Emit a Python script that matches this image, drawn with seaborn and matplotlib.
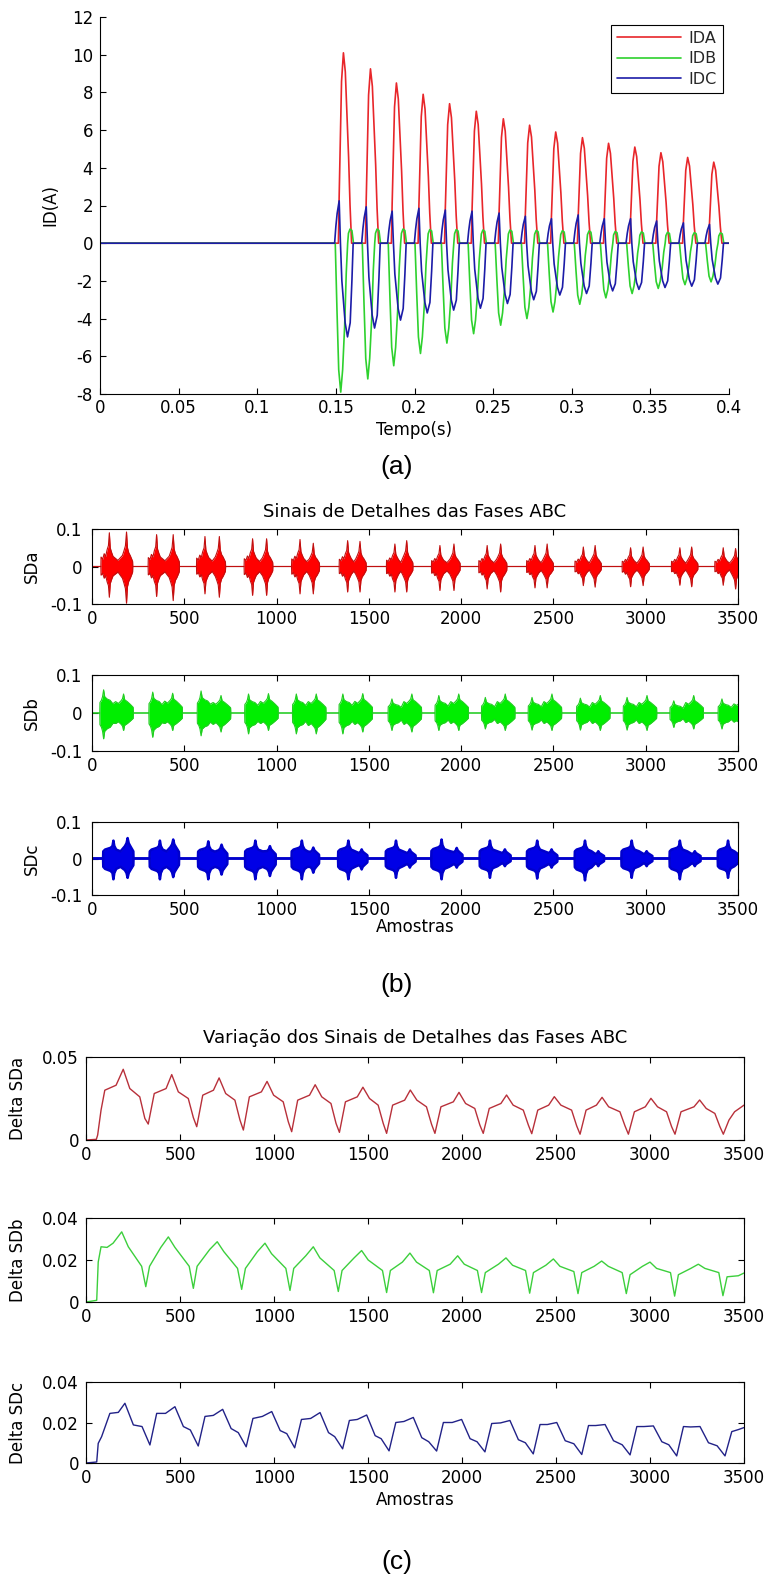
import numpy as np
import matplotlib
matplotlib.use("Agg")
import matplotlib.pyplot as plt
import seaborn as sns

# ======================= DATA =======================
# ---- Panel (a): currents, one entry per cycle ----
CYCLE_PEAK_T = [0.1548, 0.1720, 0.1885, 0.2055, 0.2223, 0.2393, 0.2565, 0.2732,
                0.2898, 0.3068, 0.3234, 0.3401, 0.3567, 0.3737, 0.3903]
IDA_PEAK = [10.1, 9.25, 8.5, 7.9, 7.4, 7.0, 6.6, 6.26, 5.9, 5.6, 5.3, 5.1, 4.8, 4.55, 4.3]
IDB_TROUGH = [-7.9, -7.2, -6.5, -5.85, -5.3, -4.8, -4.35, -4.0, -3.65, -3.24, -2.9,
              -2.67, -2.4, -2.2, -2.05]
IDB_BUMP = [0.75, 0.75, 0.75, 0.72, 0.72, 0.7, 0.7, 0.68, 0.66, 0.65, 0.62, 0.6, 0.58, 0.56, 0.55]
IDC_PEAK = [2.25, 1.93, 1.7, 1.85, 1.76, 1.7, 1.6, 1.43, 1.3, 1.5, 1.3, 1.3, 1.18, 1.08, 1.0]
IDC_TROUGH = [-4.97, -4.5, -4.08, -3.7, -3.55, -3.45, -3.2, -3.0, -2.75, -2.67, -2.53,
              -2.45, -2.35, -2.28, -2.17]
TIME_RANGE = [0.0, 0.4]
SERIES_A = ["IDA", "IDB", "IDC"]
# pulse shapes (offset from IDA peak [s], normalised level)
IDA_DT = [-0.0032, -0.0027, -0.0021, -0.0012, 0.0, 0.0012, 0.0024, 0.0033, 0.0042, 0.0052]
IDA_SH = [0.0, 0.25, 0.5, 0.85, 1.0, 0.9, 0.65, 0.45, 0.2, 0.0]
IDB_DT = [-0.0052, -0.0041, -0.0030, -0.0017, -0.0005, 0.0008, 0.0018, 0.0027,
          0.0032, 0.0042, 0.0054, 0.0064]
IDB_SH_TR = [0.0, 0.45, 0.85, 1.0, 0.85, 0.55, 0.2, 0.0, 0.0, 0.0, 0.0, 0.0]
IDB_SH_BU = [0.0, 0.0, 0.0, 0.0, 0.0, 0.0, 0.0, 0.0, 0.7, 1.0, 0.9, 0.0]
IDC_DT = [-0.0056, -0.0048, -0.0040, -0.0027, -0.0019, -0.0010, 0.0011, 0.0026,
          0.0043, 0.0054, 0.0062]
IDC_SH_PK = [0.0, 0.4, 0.7, 1.0, 0.0, 0.0, 0.0, 0.0, 0.0, 0.0, 0.0]
IDC_SH_TR = [0.0, 0.0, 0.0, 0.0, 0.0, 0.4, 0.85, 1.0, 0.85, 0.4, 0.0]
A_XTICKS = [0, 0.05, 0.1, 0.15, 0.2, 0.25, 0.3, 0.35, 0.4]
A_XLABELS = ["0", "0.05", "0.1", "0.15", "0.2", "0.25", "0.3", "0.35", "0.4"]
A_YTICKS = [-8, -6, -4, -2, 0, 2, 4, 6, 8, 10, 12]

# ---- Panel (b): detail-signal bursts ----
SAMPLE_RANGE = [0, 3500]
SDA_L1 = [94, 350, 612, 870, 1127, 1385, 1641, 1885, 2141, 2400, 2662, 2918, 3185, 3420]
SDA_L2 = [187, 440, 690, 946, 1199, 1452, 1705, 1961, 2214, 2466, 2726, 2986, 3249, 3487]
SDA_UP1 = [0.090, 0.085, 0.080, 0.074, 0.072, 0.069, 0.060, 0.056, 0.056, 0.056, 0.052, 0.050, 0.050, 0.050]
SDA_UP2 = [0.092, 0.085, 0.080, 0.074, 0.062, 0.067, 0.069, 0.060, 0.060, 0.060, 0.056, 0.052, 0.052, 0.048]
SDA_DN1 = [-0.082, -0.080, -0.073, -0.077, -0.073, -0.068, -0.068, -0.064, -0.060, -0.057, -0.051, -0.054, -0.050, -0.050]
SDA_DN2 = [-0.098, -0.091, -0.082, -0.077, -0.073, -0.068, -0.068, -0.064, -0.068, -0.057, -0.055, -0.051, -0.054, -0.060]
SDA_DX1 = [-46, -45, -36, -28, -20, -12, -5, 0, 5, 12, 20]
SDA_R1 = [0.0, 0.28, 0.22, 0.38, 0.30, 0.50, 0.62, 1.0, 0.55, 0.42, 0.30]
SDA_RMID = 0.18
SDA_DX2 = [-22, -14, -6, 0, 5, 12, 20, 28, 33, 34]
SDA_R2 = [0.32, 0.45, 0.60, 1.0, 0.55, 0.40, 0.32, 0.22, 0.15, 0.0]

SDB_S = [43, 309, 571, 828, 1087, 1339, 1605, 1859, 2111, 2364, 2626, 2879, 3132, 3393]
SDB_UP1 = [0.061, 0.055, 0.058, 0.050, 0.050, 0.050, 0.037, 0.046, 0.041, 0.041, 0.039, 0.041, 0.032, 0.037]
SDB_DN1 = [-0.068, -0.064, -0.060, -0.055, -0.055, -0.055, -0.046, -0.046, -0.042, -0.045, -0.045, -0.045, -0.038, -0.042]
SDB_UP2 = [0.050, 0.052, 0.046, 0.051, 0.050, 0.051, 0.050, 0.050, 0.050, 0.050, 0.046, 0.046, 0.046, 0.040]
SDB_DN2 = [-0.046, -0.046, -0.050, -0.046, -0.055, -0.050, -0.050, -0.046, -0.046, -0.046, -0.046, -0.046, -0.042, -0.040]
SDB_DX = [-1, 0, 8, 14, 20, 26, 40, 55, 70, 85, 100, 115, 122, 128, 134, 148, 165, 180, 181]
SDB_R = [0.0, 0.45, 0.55, 0.7, 1.0, 0.7, 0.6, 0.55, 0.4, 0.6, 0.5, 0.65, 0.75, 1.0, 0.7, 0.6, 0.45, 0.3, 0.0]
SDB_SPLIT = 70

SDC_L1 = [116, 368, 630, 885, 1137, 1389, 1647, 1894, 2156, 2412, 2671, 2924, 3185, 3446]
SDC_L2 = [193, 440, 702, 964, 1199, 1461, 1722, 1976, 2237, 2490, 2743, 3005, 3266, 3515]
SDC_UP1 = [0.049, 0.049, 0.047, 0.049, 0.049, 0.049, 0.049, 0.052, 0.049, 0.049, 0.049, 0.049, 0.049, 0.049]
SDC_DN1 = [-0.057, -0.057, -0.057, -0.057, -0.057, -0.057, -0.053, -0.057, -0.053, -0.055, -0.060, -0.053, -0.057, -0.053]
SDC_UP2 = [0.056, 0.052, 0.038, 0.034, 0.030, 0.025, 0.025, 0.029, 0.025, 0.025, 0.020, 0.020, 0.020, 0.020]
SDC_DN2 = [-0.053, -0.051, -0.044, -0.048, -0.039, -0.030, -0.025, -0.025, -0.021, -0.025, -0.021, -0.021, -0.021, -0.021]
SDC_DX1 = [-56, -55, -45, -30, -15, -5, 0, 5, 15]
SDC_R1 = [0.0, 0.4, 0.5, 0.55, 0.6, 0.7, 1.0, 0.7, 0.5]
SDC_RMID = 0.4
SDC_DX2 = [-15, -6, 0, 6, 15, 25, 31, 32]
SDC_R2 = [0.6, 0.75, 1.0, 0.75, 0.6, 0.45, 0.35, 0.0]

B_YTICKS = [-0.1, 0, 0.1]
B_YLABELS = ["-0.1", "0", "0.1"]
SAMPLE_TICKS = [0, 500, 1000, 1500, 2000, 2500, 3000, 3500]

# ---- Panel (c): delta signals ----
DSA_START_X = [0, 55, 62, 80, 100, 160]
DSA_START_Y = [0, 0.0004, 0.003, 0.018, 0.030, 0.033]
DSA_PK_X = [198, 456, 708, 963, 1219, 1473, 1725, 1984, 2237, 2491, 2745, 3005, 3264]
DSA_PK_Y = [0.0426, 0.0394, 0.0374, 0.0353, 0.0333, 0.0318, 0.0301, 0.0287, 0.0271, 0.0261, 0.0257, 0.0251, 0.0241]
DSA_TR_X = [331, 589, 837, 1094, 1348, 1599, 1856, 2113, 2371, 2628, 2885, 3133, 3390]
DSA_TR_Y = [0.0096, 0.0080, 0.0060, 0.0050, 0.0046, 0.0040, 0.0040, 0.0040, 0.0038, 0.0035, 0.0035, 0.0035, 0.0035]
DSA_PL_A = [0.028, 0.027, 0.026, 0.024, 0.023, 0.021, 0.020, 0.019, 0.018, 0.018, 0.017, 0.017]
DSA_PL_B = [0.031, 0.030, 0.029, 0.027, 0.026, 0.024, 0.023, 0.022, 0.021, 0.021, 0.020, 0.020]
DSA_SH_A = [0.031, 0.029, 0.028, 0.027, 0.026, 0.025, 0.024, 0.022, 0.021, 0.021, 0.020, 0.020, 0.019]
DSA_SH_B = [0.026, 0.025, 0.024, 0.023, 0.022, 0.021, 0.020, 0.019, 0.018, 0.018, 0.017, 0.017, 0.016]
DSA_KNEE = [0.013, 0.0135, 0.012, 0.011, 0.010, 0.010, 0.0095, 0.009, 0.009, 0.0085, 0.0085, 0.008, 0.008]
DSA_END_X = [3420, 3450, 3500]
DSA_END_Y = [0.012, 0.017, 0.021]

DSB_START_X = [0, 57, 65, 80, 112, 144]
DSB_START_Y = [0, 0.0008, 0.019, 0.0263, 0.026, 0.028]
DSB_PK_X = [190, 438, 698, 952, 1209, 1466, 1723, 1977, 2234, 2486, 2743, 3000, 3257]
DSB_PK_Y = [0.0334, 0.031, 0.0287, 0.028, 0.0263, 0.0245, 0.0233, 0.022, 0.021, 0.0205, 0.0195, 0.019, 0.018]
DSB_TR_X = [318, 571, 828, 1085, 1342, 1599, 1848, 2104, 2360, 2617, 2874, 3131, 3388]
DSB_TR_Y = [0.0073, 0.0065, 0.006, 0.0055, 0.005, 0.0045, 0.0044, 0.0045, 0.0042, 0.004, 0.004, 0.0028, 0.003]
DSB_PL_A = [0.017, 0.017, 0.016, 0.016, 0.015, 0.015, 0.015, 0.014, 0.014, 0.014, 0.013, 0.013]
DSB_PL_B = [0.026, 0.025, 0.024, 0.022, 0.021, 0.019, 0.018, 0.018, 0.0175, 0.017, 0.017, 0.016]
DSB_SH_A = [0.0263, 0.026, 0.024, 0.023, 0.021, 0.020, 0.019, 0.018, 0.0175, 0.017, 0.017, 0.016, 0.016]
DSB_SH_B = [0.017, 0.017, 0.016, 0.016, 0.015, 0.015, 0.015, 0.015, 0.015, 0.0145, 0.014, 0.014, 0.014]
DSB_END_X = [3410, 3470, 3500]
DSB_END_Y = [0.012, 0.0125, 0.0138]

DSC_START_X = [0, 57, 65, 83, 127, 172]
DSC_START_Y = [0, 0.0005, 0.0097, 0.013, 0.0245, 0.025]
DSC_PK_X = [207, 473, 727, 988, 1245, 1493, 1741, 1998, 2255, 2504, 2761, 3018, 3266]
DSC_PK_Y = [0.0295, 0.0278, 0.0265, 0.0254, 0.0249, 0.0237, 0.0225, 0.0215, 0.021, 0.020, 0.019, 0.0183, 0.018]
DSC_TR_X = [340, 597, 852, 1110, 1365, 1612, 1865, 2122, 2379, 2637, 2894, 3142, 3399]
DSC_TR_Y = [0.0089, 0.0084, 0.008, 0.0075, 0.007, 0.006, 0.0059, 0.0055, 0.0045, 0.0042, 0.004, 0.0035, 0.0035]
DSC_PL_A = [0.0245, 0.023, 0.022, 0.0215, 0.021, 0.020, 0.020, 0.0195, 0.019, 0.0185, 0.018, 0.018]
DSC_PL_B = [0.0245, 0.0235, 0.023, 0.022, 0.0215, 0.0205, 0.020, 0.0198, 0.019, 0.0185, 0.018, 0.0178]
DSC_SH_A = [0.0188, 0.018, 0.017, 0.016, 0.015, 0.0135, 0.0125, 0.012, 0.0115, 0.011, 0.011, 0.0105, 0.010]
DSC_SH_B = [0.018, 0.0163, 0.015, 0.0145, 0.013, 0.012, 0.0105, 0.0105, 0.010, 0.0095, 0.009, 0.009, 0.0085]
DSC_END_X = [3435, 3470, 3500]
DSC_END_Y = [0.0155, 0.0165, 0.0175]

C_YTICKS_A = [0, 0.05]
C_YLABELS_A = ["0", "0.05"]
C_YTICKS_B = [0, 0.02, 0.04]
C_YLABELS_B = ["0", "0.02", "0.04"]

# ======================= BUILDERS =======================
def pulse_series(centers, comps, dts, t_range):
    t, y = [t_range[0]], [0.0]
    for k, c in enumerate(centers):
        for j, dt in enumerate(dts):
            t.append(c + dt)
            y.append(sum(amp[k] * shp[j] for amp, shp in comps))
    t.append(t_range[1]); y.append(0.0)
    return np.array(t), np.array(y)


def two_lobe_env(L1, L2, U1, U2, D1, D2, dx1, r1, rmid, dx2, r2, xr):
    x, up, lo = [xr[0]], [0.0], [0.0]
    for k in range(len(L1)):
        for dx, r in zip(dx1, r1):
            x.append(L1[k] + dx); up.append(r * U1[k]); lo.append(r * D1[k])
        x.append((L1[k] + L2[k]) / 2); up.append(rmid * U1[k]); lo.append(rmid * D1[k])
        for dx, r in zip(dx2, r2):
            x.append(L2[k] + dx); up.append(r * U2[k]); lo.append(r * D2[k])
    if x[-1] < xr[1]:
        x.append(xr[1]); up.append(0.0); lo.append(0.0)
    return np.array(x), np.array(up), np.array(lo)


def start_env(S, U1, U2, D1, D2, dxs, rs, split, xr):
    x, up, lo = [xr[0]], [0.0], [0.0]
    for k in range(len(S)):
        for dx, r in zip(dxs, rs):
            u, d = (U1[k], D1[k]) if dx <= split else (U2[k], D2[k])
            x.append(S[k] + dx); up.append(r * u); lo.append(r * d)
    if x[-1] < xr[1]:
        x.append(xr[1]); up.append(0.0); lo.append(0.0)
    return np.array(x), np.array(up), np.array(lo)


def delta_series(sx, sy, pkx, pky, trx, tr_y, pla, plb, sha, shb, ex, ey,
                 da, db, dc, dd, knee=None, dk=18):
    x, y = list(sx), list(sy)
    for k in range(len(pkx)):
        if k > 0:
            x += [trx[k - 1] + da, pkx[k] - db]
            y += [pla[k - 1], plb[k - 1]]
        x += [pkx[k], pkx[k] + dc, trx[k] - dd]
        y += [pky[k], sha[k], shb[k]]
        if knee is not None:
            x.append(trx[k] - dk); y.append(knee[k])
        x.append(trx[k]); y.append(tr_y[k])
    x += list(ex); y += list(ey)
    return np.array(x), np.array(y)

# ======================= FIGURE =======================
sns.set_theme(style="ticks")
plt.rcParams["font.family"] = ["DejaVu Sans"]
plt.rcParams["axes.unicode_minus"] = False

W, H = 766, 1577
fig = plt.figure(figsize=(W / 100, H / 100), dpi=100)
fig.patch.set_facecolor("white")


def add_ax(l, t, r, b):
    return fig.add_axes([l / W, 1 - b / H, (r - l) / W, (b - t) / H])


def style(ax, box=True, xpad=4.5, ypad=5):
    for s in ax.spines.values():
        s.set_color("black"); s.set_linewidth(0.8)
    if not box:
        ax.spines["top"].set_visible(False)
        ax.spines["right"].set_visible(False)
    ax.tick_params(direction="in", length=4, width=0.8, top=box, right=box,
                   labelsize=12, colors="black")
    ax.tick_params(axis="x", pad=xpad)
    ax.tick_params(axis="y", pad=ypad)
    ax.set_xlabel(""); ax.set_ylabel("")


def ftext(x, y, s, size=12, rot=0, family=None):
    kw = dict(ha="center", va="center", fontsize=size, rotation=rot, color="black")
    if family:
        kw["family"] = family
    fig.text(x / W, 1 - y / H, s, **kw)


def line(ax, x, y, color, lw, label=None):
    sns.lineplot(x=x, y=y, ax=ax, color=color, linewidth=lw, estimator=None,
                 sort=False, label=label, legend=False)

# ---------- (a) ----------
axA = add_ax(100, 17, 729, 394)
ta, ya = pulse_series(CYCLE_PEAK_T, [(IDA_PEAK, IDA_SH)], IDA_DT, TIME_RANGE)
tb, yb = pulse_series(CYCLE_PEAK_T, [(IDB_TROUGH, IDB_SH_TR), (IDB_BUMP, IDB_SH_BU)], IDB_DT, TIME_RANGE)
tc, yc = pulse_series(CYCLE_PEAK_T, [(IDC_PEAK, IDC_SH_PK), (IDC_TROUGH, IDC_SH_TR)], IDC_DT, TIME_RANGE)
line(axA, ta, ya, "#e8262a", 1.2, SERIES_A[0])
line(axA, tb, yb, "#2ed12e", 1.2, SERIES_A[1])
line(axA, tc, yc, "#1c1ca8", 1.2, SERIES_A[2])
axA.set_xlim(TIME_RANGE)
axA.set_ylim(A_YTICKS[0], A_YTICKS[-1])
axA.set_xticks(A_XTICKS, A_XLABELS)
axA.set_yticks(A_YTICKS, [str(v) for v in A_YTICKS])
style(axA, box=False, xpad=3.5)
leg = axA.legend(loc="upper right", bbox_to_anchor=(0.99, 0.979), borderaxespad=0,
                 fontsize=11.5, handlelength=4.0, labelspacing=0.36, borderpad=0.35,
                 handletextpad=0.5, fancybox=False, framealpha=1, edgecolor="black")
leg.get_frame().set_linewidth(0.8)
ftext(50, 205, "ID(A)", rot=90)
ftext(414, 430, "Tempo(s)")
ftext(397, 467, "(a)", size=19, family="Liberation Sans")

# ---------- (b) ----------
b_boxes = [(529, 604), (675, 751), (822, 895)]
b_names = ["SDa", "SDb", "SDc"]
b_env = [
    two_lobe_env(SDA_L1, SDA_L2, SDA_UP1, SDA_UP2, SDA_DN1, SDA_DN2,
                 SDA_DX1, SDA_R1, SDA_RMID, SDA_DX2, SDA_R2, SAMPLE_RANGE),
    start_env(SDB_S, SDB_UP1, SDB_UP2, SDB_DN1, SDB_DN2, SDB_DX, SDB_R, SDB_SPLIT, SAMPLE_RANGE),
    two_lobe_env(SDC_L1, SDC_L2, SDC_UP1, SDC_UP2, SDC_DN1, SDC_DN2,
                 SDC_DX1, SDC_R1, SDC_RMID, SDC_DX2, SDC_R2, SAMPLE_RANGE),
]
b_fill = ["#ff0000", "#00ee00", "#0000e6"]
b_edge = ["#c01010", "#22cc22", "#0000cc"]
b_lw = [0.8, 0.8, 1.8]
for (top, bot), name, (x, up, lo), fc, ec, lw in zip(b_boxes, b_names, b_env, b_fill, b_edge, b_lw):
    ax = add_ax(92, top, 738, bot)
    ax.fill_between(x, lo, up, color=fc, linewidth=0, zorder=2)
    line(ax, x, up, ec, lw)
    line(ax, x, lo, ec, lw)
    ax.set_xlim(SAMPLE_RANGE)
    ax.set_ylim(B_YTICKS[0], B_YTICKS[-1])
    ax.set_xticks(SAMPLE_TICKS, [str(v) for v in SAMPLE_TICKS])
    ax.set_yticks(B_YTICKS, B_YLABELS)
    style(ax, ypad=7)
    ftext(32, (top + bot) / 2, name, rot=90)
ftext(415, 512, "Sinais de Detalhes das Fases ABC", size=13)
ftext(415, 927, "Amostras")
ftext(397, 985, "(b)", size=19, family="Liberation Sans")

# ---------- (c) ----------
c_boxes = [(1057, 1140), (1218, 1302), (1382, 1463)]
c_names = ["Delta SDa", "Delta SDb", "Delta SDc"]
c_series = [
    delta_series(DSA_START_X, DSA_START_Y, DSA_PK_X, DSA_PK_Y, DSA_TR_X, DSA_TR_Y,
                 DSA_PL_A, DSA_PL_B, DSA_SH_A, DSA_SH_B, DSA_END_X, DSA_END_Y,
                 32, 30, 35, 45, knee=DSA_KNEE),
    delta_series(DSB_START_X, DSB_START_Y, DSB_PK_X, DSB_PK_Y, DSB_TR_X, DSB_TR_Y,
                 DSB_PL_A, DSB_PL_B, DSB_SH_A, DSB_SH_B, DSB_END_X, DSB_END_Y, 20, 40, 35, 22),
    delta_series(DSC_START_X, DSC_START_Y, DSC_PK_X, DSC_PK_Y, DSC_TR_X, DSC_TR_Y,
                 DSC_PL_A, DSC_PL_B, DSC_SH_A, DSC_SH_B, DSC_END_X, DSC_END_Y, 36, 50, 45, 42),
]
c_colors = ["#b8303a", "#3ccf3c", "#222288"]
c_yt = [(C_YTICKS_A, C_YLABELS_A), (C_YTICKS_B, C_YLABELS_B), (C_YTICKS_B, C_YLABELS_B)]
for (top, bot), name, (x, y), col, (yt, yl) in zip(c_boxes, c_names, c_series, c_colors, c_yt):
    ax = add_ax(86, top, 744, bot)
    line(ax, x, y, col, 1.0)
    ax.set_xlim(SAMPLE_RANGE)
    ax.set_ylim(yt[0], yt[-1])
    ax.set_xticks(SAMPLE_TICKS, [str(v) for v in SAMPLE_TICKS])
    ax.set_yticks(yt, yl)
    style(ax)
    ftext(18, (top + bot) / 2, name, rot=90)
ftext(415, 1038, "Variação dos Sinais de Detalhes das Fases ABC", size=13)
ftext(415, 1500, "Amostras")
ftext(397, 1562, "(c)", size=19, family="Liberation Sans")

fig.savefig("out.png", dpi=100, facecolor="white")
